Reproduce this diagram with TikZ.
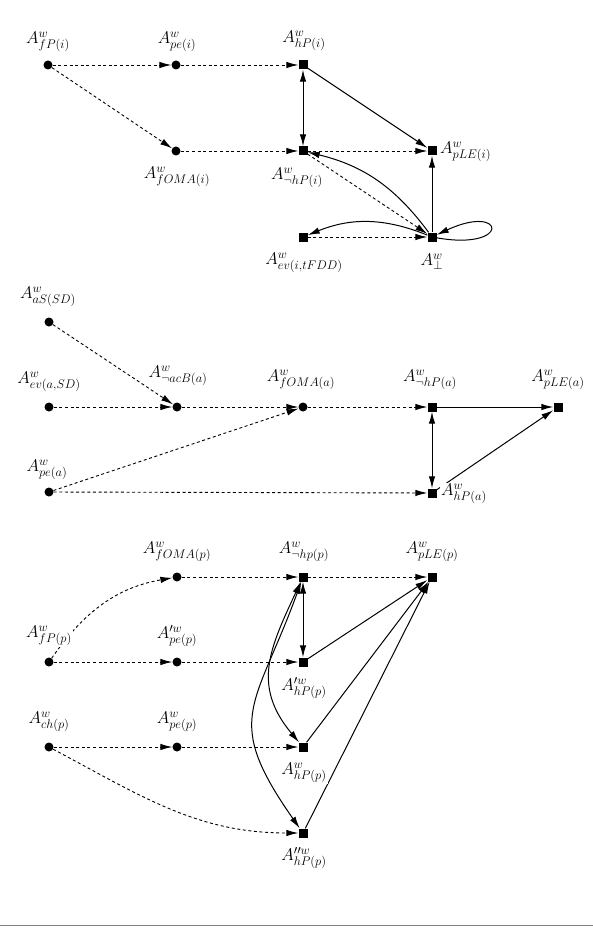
\RequirePackage{fix-cm}
\documentclass[tikz,border=0pt]{standalone}
\usetikzlibrary{arrows.meta}
\DeclareMathSizes{17}{17}{12.5}{9}
\begin{document}
\begin{tikzpicture}[x=1pt,y=1pt,
  dotnode/.style={circle,fill,inner sep=0pt,minimum size=9pt},
  sqnode/.style={rectangle,fill,inner sep=0pt,minimum size=9pt},
  lbl/.style={fill=white,inner sep=1pt,font=\fontsize{17}{20}\selectfont},
  myarr/.tip={Latex[length=12pt,width=6.5pt]},
  dashedge/.style={dash pattern=on 3pt off 2.6pt,line width=0.9pt,-myarr},
  soledge/.style={line width=1pt,-myarr},
  soldouble/.style={line width=1pt,myarr-myarr}]
\fill[white] (0,0) rectangle (593,-933);
\useasboundingbox (0,0) rectangle (593,-933);

% ---------- top diagram ----------
\node[dotnode] (fPi) at (48,-65) {};
\node[dotnode] (pei) at (176,-65) {};
\node[sqnode] (hPi) at (303,-65) {};
\node[dotnode] (fOMAi) at (176,-151) {};
\node[sqnode] (nhPi) at (303,-151) {};
\node[sqnode] (pLEi) at (432,-151) {};
\node[sqnode] (bot) at (432,-237) {};
\node[sqnode] (evi) at (303,-237) {};

\draw[dashedge] (fPi) -- (pei);
\draw[dashedge] (pei) -- (hPi);
\draw[dashedge] (fPi) -- (fOMAi);
\draw[dashedge] (fOMAi) -- (nhPi);
\draw[soldouble] (hPi) -- (nhPi);
\draw[soledge] (hPi) -- (pLEi);
\draw[dashedge] (nhPi) -- (pLEi);
\draw[soledge] (bot) -- (pLEi);
\draw[dashedge] (nhPi) -- (bot);
\draw[soledge] (bot) to[bend right=20] (nhPi);
\draw[dashedge] (evi) -- (bot);
\draw[soledge] (bot) to[bend right=22] (evi);
\draw[soledge] (bot) to[out=-10,in=25,distance=76pt] (bot);

\node[lbl] (lfPi) at (48,-42) {$A^w_{fP(i)}$};
\node[lbl] (lpei) at (177,-42) {$A^w_{pe(i)}$};
\node[lbl] (lhPi) at (304,-41) {$A^w_{hP(i)}$};
\node[lbl] (lfOMAi) at (177,-177) {$A^w_{fOMA(i)}$};
\node[lbl] (lnhPi) at (297,-178) {$A^w_{\neg hP(i)}$};
\node[lbl,anchor=west] (lpLEi) at (439,-152) {$A^w_{pLE(i)}$};
\node[lbl] (levi) at (304,-263) {$A^w_{ev(i,tFDD)}$};
\node[lbl] (lbot) at (432,-262) {$A^w_{\bot}$};

% ---------- middle diagram ----------
\node[dotnode] (aS) at (49,-322) {};
\node[dotnode] (evA) at (49,-407) {};
\node[dotnode] (nacB) at (177,-407) {};
\node[dotnode] (fOMAa) at (303,-407) {};
\node[sqnode] (nhPa) at (432,-407) {};
\node[sqnode] (pLEa) at (558,-407) {};
\node[dotnode] (pea) at (49,-492) {};
\node[sqnode] (hPa) at (432,-493) {};

\draw[dashedge] (aS) -- (nacB);
\draw[dashedge] (evA) -- (nacB);
\draw[dashedge] (nacB) -- (fOMAa);
\draw[dashedge] (pea) -- (fOMAa);
\draw[dashedge] (fOMAa) -- (nhPa);
\draw[dashedge] (pea) -- (hPa);
\draw[soledge] (nhPa) -- (pLEa);
\draw[soldouble] (nhPa) -- (hPa);
\draw[soledge] (hPa) -- (pLEa);

\node[lbl] (laS) at (48,-297) {$A^w_{aS(SD)}$};
\node[lbl] (levA) at (49,-382) {$A^w_{ev(a,SD)}$};
\node[lbl] (lnacB) at (178,-376) {$A^w_{\neg acB(a)}$};
\node[lbl] (lfOMAa) at (301,-380) {$A^w_{fOMA(a)}$};
\node[lbl] (lnhPa) at (430,-380) {$A^w_{\neg hP(a)}$};
\node[lbl] (lpLEa) at (558,-380) {$A^w_{pLE(a)}$};
\node[lbl] (lpea) at (47,-470) {$A^w_{pe(a)}$};
\node[lbl,anchor=west] (lhPa) at (440,-494) {$A^w_{hP(a)}$};

% ---------- bottom diagram ----------
\node[dotnode] (fOMAp) at (177,-577) {};
\node[sqnode] (nhpp) at (303,-577) {};
\node[sqnode] (pLEp) at (432,-577) {};
\node[dotnode] (fPp) at (49,-662) {};
\node[dotnode] (pep2) at (177,-662) {};
\node[sqnode] (hPp1) at (303,-662) {};
\node[dotnode] (chp) at (49,-747) {};
\node[dotnode] (pep) at (177,-747) {};
\node[sqnode] (hPp) at (303,-747) {};
\node[sqnode] (hPpp) at (303,-833) {};

\draw[dashedge] (fPp) to[out=55,in=190] (fOMAp);
\draw[dashedge] (fOMAp) -- (nhpp);
\draw[dashedge] (nhpp) -- (pLEp);
\draw[dashedge] (fPp) -- (pep2);
\draw[dashedge] (pep2) -- (hPp1);
\draw[soldouble] (nhpp) -- (hPp1);
\draw[soledge] (hPp1) -- (pLEp);
\draw[dashedge] (chp) -- (pep);
\draw[dashedge] (pep) -- (hPp);
\draw[dashedge] (chp) to[out=-28,in=180] (hPpp);
\draw[soledge] (hPp) -- (pLEp);
\draw[soledge] (hPpp) -- (pLEp);
\draw[soldouble] (nhpp) to[out=245,in=130,looseness=1.17] (hPp);
\draw[soldouble] (nhpp) to[out=250,in=125,looseness=1.4] (hPpp);

\node[lbl] (lfOMAp) at (177,-552) {$A^w_{fOMA(p)}$};
\node[lbl] (lnhpp) at (304,-552) {$A^w_{\neg hp(p)}$};
\node[lbl] (lpLEp) at (432,-552) {$A^w_{pLE(p)}$};
\node[lbl] (lfPp) at (49,-636) {$A^w_{fP(p)}$};
\node[lbl] (lpep2) at (177,-636) {$A^{\prime w}_{pe(p)}$};
\node[lbl] (lhPp1) at (304,-688) {$A^{\prime w}_{hP(p)}$};
\node[lbl] (lchp) at (49,-722) {$A^w_{ch(p)}$};
\node[lbl] (lpep) at (177,-722) {$A^w_{pe(p)}$};
\node[lbl] (lhPp) at (304,-773) {$A^w_{hP(p)}$};
\node[lbl] (lhPpp) at (304,-858) {$A^{\prime\prime w}_{hP(p)}$};

% ---------- rule at the bottom ----------
\coordinate (ruleL) at (0,-925);
\coordinate (ruleR) at (593,-925);
\draw[gray,line width=1pt] (ruleL) -- (ruleR);
\end{tikzpicture}
\end{document}
